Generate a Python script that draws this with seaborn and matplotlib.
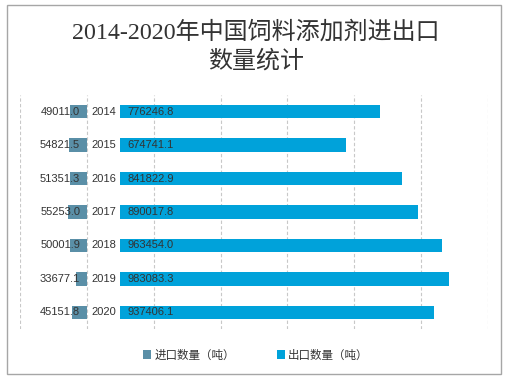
import matplotlib
matplotlib.use("Agg")
import matplotlib.pyplot as plt
import seaborn as sns
import pandas as pd
from matplotlib.patches import Patch, Rectangle

years = ["2014", "2015", "2016", "2017", "2018", "2019", "2020"]
imports = [49011.0, 54821.5, 51351.3, 55253.0, 50001.9, 33677.1, 45151.8]
exports = [776246.8, 674741.1, 841822.9, 890017.8, 963454.0, 983083.3, 937406.1]
series_names = ["进口数量（吨）", "出口数量（吨）"]
title = "2014-2020年中国饲料添加剂进出口\n数量统计"

IMP_COLOR = "#5A8FA7"
EXP_COLOR = "#00A2DA"
TXT = "#333333"
OFFSET = 100000  # gap reserved for year labels

sns.set_theme(style="white")
plt.rcParams["font.family"] = ["Liberation Sans", "Noto Sans CJK SC", "DejaVu Sans"]

fig = plt.figure(figsize=(5.07, 3.79), dpi=100)
fig.patch.set_facecolor("white")
ax = fig.add_axes([20 / 507, 1 - 329 / 379, 468 / 507, 234 / 379])
ax.set_axisbelow(True)

df = pd.DataFrame({
    "year": years * 2,
    "value": [-v for v in imports] + list(exports),
    "series": [series_names[0]] * len(years) + [series_names[1]] * len(years),
})
sns.barplot(data=df, y="year", x="value", hue="series", orient="h",
            palette=[IMP_COLOR, EXP_COLOR], dodge=False, width=0.4,
            saturation=1, legend=False, ax=ax)

# shift export bars right to leave room for the year label
n = len(years)
for i, p in enumerate(ax.patches):
    if i >= n:
        p.set_x(p.get_x() + OFFSET)
    p.set_edgecolor("none")
    p.set_zorder(3)

ax.set_xlim(-200000, 1200000)
ax.set_ylim(n - 0.5, -0.5)
ax.set_xticks(range(-200000, 1200001, 200000))
ax.set_xticklabels([])
ax.set_yticks([])
ax.set_xlabel("")
ax.set_ylabel("")
ax.tick_params(length=0)
ax.grid(axis="x", color="#C8C8C8", linestyle=(0, (3, 2)), linewidth=0.8)
ax.grid(axis="y", visible=False)
for s in ax.spines.values():
    s.set_visible(False)
ax.set_facecolor("none")

for i, y in enumerate(years):
    ax.text(-20000, i, f"{imports[i]:.1f}", ha="right", va="center",
            fontsize=8, color=TXT, zorder=5)
    ax.text(OFFSET / 2, i, y, ha="center", va="center",
            fontsize=8, color=TXT, zorder=5)
    ax.text(OFFSET + 22000, i, f"{exports[i]:.1f}", ha="left", va="center",
            fontsize=8, color=TXT, zorder=5)

fig.text(0.505, 1 - 47 / 379, title, ha="center", va="center", fontsize=17.3,
         color="#333333", linespacing=1.35,
         family=["Liberation Serif", "Noto Sans CJK SC", "DejaVu Sans"])

handles = [Patch(facecolor=IMP_COLOR, edgecolor="none"),
           Patch(facecolor=EXP_COLOR, edgecolor="none")]
fig.legend(handles, series_names, loc="center", bbox_to_anchor=(0.505, 1 - 355 / 379),
           ncol=2, frameon=False, handlelength=0.7, handleheight=0.7,
           handletextpad=0.3, columnspacing=3.6,
           prop={"family": ["Noto Sans CJK SC", "DejaVu Sans"], "size": 8.3},
           labelcolor=TXT)

fig.patches.append(Rectangle((7 / 507, 1 - 374 / 379), 494 / 507, 369 / 379,
                             transform=fig.transFigure, fill=False,
                             edgecolor="#A6A6A6", linewidth=1.0))

fig.savefig("out.png", dpi=100, facecolor="white")
